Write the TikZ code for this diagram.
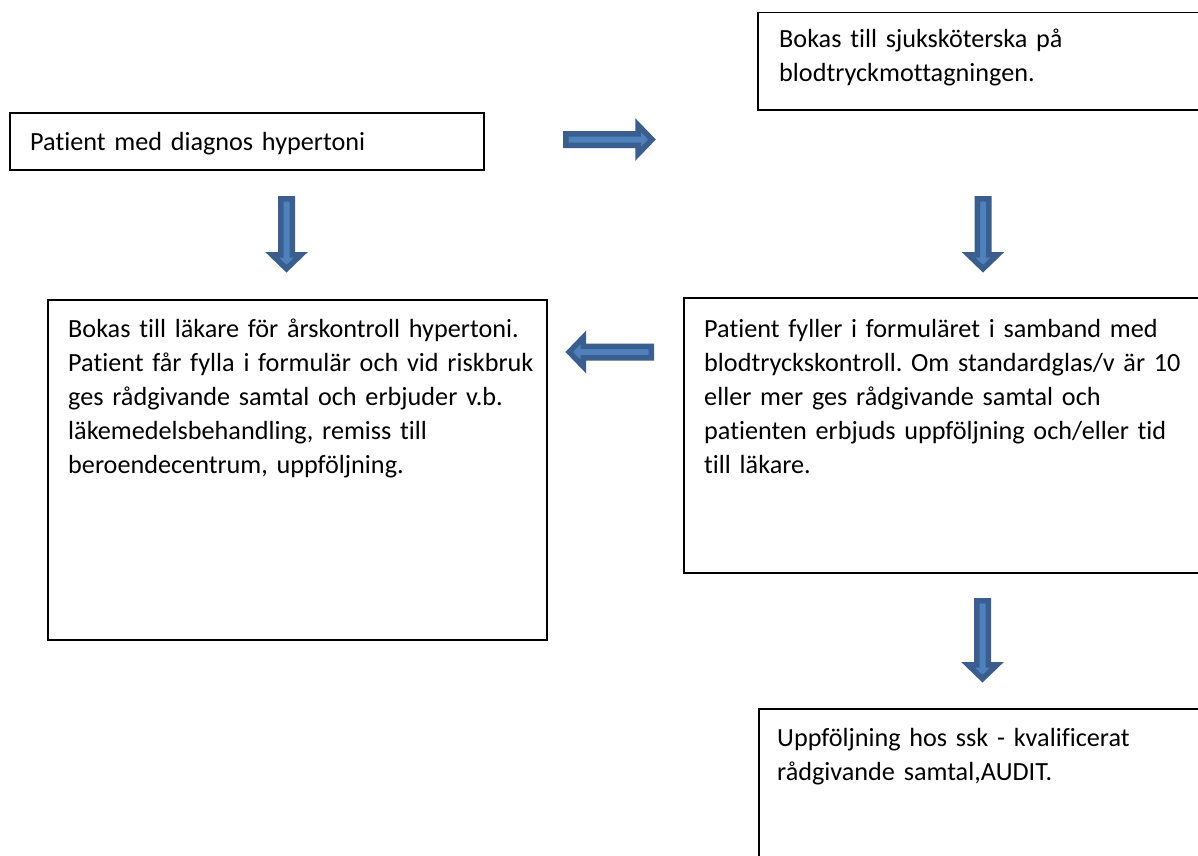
\documentclass[tikz,border=0pt]{standalone}
\usepackage{fontspec}
\setmainfont[Ligatures={NoCommon}]{Carlito}
\definecolor{arrowfill}{HTML}{4F81BD}
\definecolor{arrowline}{HTML}{3A5F8E}
\frenchspacing
\begin{document}
\begin{tikzpicture}[x=1pt,y=-1pt,
  box/.style={draw=black,line width=1.8pt,anchor=north west,inner sep=0pt,outer sep=0pt},
  txt/.style={anchor=base west,inner sep=0pt,align=left,text width=560pt,
    font=\fontsize{26.2}{34}\selectfont},
  blockarrow/.style={fill=arrowfill,draw=arrowline,line width=5.5pt},
  barrow/.pic={\path[blockarrow] (0,-5.75) -- ({#1-14},-5.75) -- ({#1-14},-14.5)
     -- (#1,0) -- ({#1-14},14.5) -- ({#1-14},5.75) -- (0,5.75) -- cycle;}]
\useasboundingbox (0,0) rectangle (1198,855);
\clip (0,0) rectangle (1198,855);
\fill[white] (0,0) rectangle (1198,855);
% boxes
\node[box,minimum width=474pt,minimum height=57pt] (b1) at (10,113) {};
\node[box,minimum width=460pt,minimum height=97.5pt] (b2) at (758,12.5) {};
\node[box,minimum width=499pt,minimum height=340pt] (b3) at (48,300) {};
\node[box,minimum width=530pt,minimum height=275pt] (b4) at (684,298) {};
\node[box,minimum width=460pt,minimum height=170pt] (b5) at (759,709) {};
% texts
\node[txt] (t1) at (30,150) {Patient med diagnos hypertoni};
\node[txt] (t2) at (779,47) {Bokas till sjuksköterska på\\blodtryckmottagningen.};
\node[txt] (t3) at (68,337) {Bokas till läkare för årskontroll hypertoni.\\Patient får fylla i formulär och vid riskbruk\\ges rådgivande samtal och erbjuder v.b.\\läkemedelsbehandling, remiss till\\beroendecentrum, uppföljning.};
\node[txt] (t4) at (704,337) {Patient fyller i formuläret i samband med\\blodtryckskontroll. Om standardglas/v är 10\\eller mer ges rådgivande samtal och\\patienten erbjuds uppföljning och/eller tid\\till läkare.};
\node[txt] (t5) at (777,746) {Uppföljning hos ssk - kvalificerat\\rådgivande samtal,AUDIT.};
% block arrows
\pic at (565.75,139.5) {barrow=86.25};
\pic[rotate=-90] at (286.5,198.75) {barrow=70};
\pic[rotate=-90] at (983,198.75) {barrow=70};
\pic[rotate=180] at (651.25,352) {barrow=82};
\pic[rotate=-90] at (982.5,600.75) {barrow=78};
\end{tikzpicture}
\end{document}
